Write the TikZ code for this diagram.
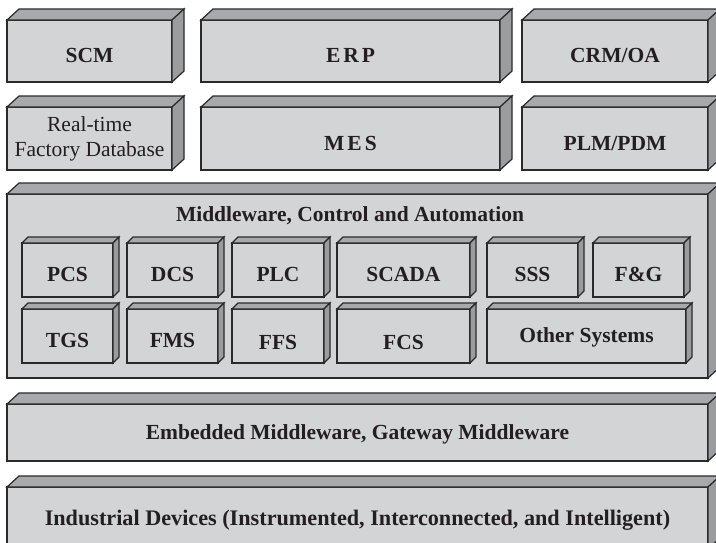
\documentclass[tikz,border=0pt]{standalone}
\usepackage{fontspec}
\setmainfont{Liberation Serif}
\definecolor{frontc}{HTML}{D3D4D6}
\definecolor{topc}{HTML}{A8A9AB}
\definecolor{sidec}{HTML}{9B9C9E}
\definecolor{edgec}{HTML}{2A2A2A}
\definecolor{txtc}{HTML}{231F20}
\tikzset{
  face/.style={draw=edgec, line width=1.2pt, line join=miter},
  lblfont/.style={font=\fontsize{21.5}{25}\selectfont\bfseries, text=txtc},
  frontbox/.style={face, fill=frontc, inner sep=0pt, outer sep=0pt,
    anchor=north west, lblfont, align=center},
  tx/.style={text height=#1, text depth=0pt},
  plain/.style={font=\fontsize{21.5}{25}\selectfont\mdseries},
  widefont/.style={font=\fontsize{22.2}{25}\selectfont\bfseries},
}
% #1 name, #2 options, #3 x, #4 y (down), #5 width, #6 height, #7 depth offset, #8 text
\newcommand{\slab}[8]{%
  \node[frontbox, minimum width=#5pt, minimum height=#6pt, #2] (#1) at (#3,-#4) {#8};
  \draw[face, fill=topc] (#1.north west) -- ++(#7) -- ([shift={(#7)}]#1.north east) -- (#1.north east) -- cycle;
  \draw[face, fill=sidec] (#1.north east) -- ++(#7) -- ([shift={(#7)}]#1.south east) -- (#1.south east) -- cycle;
}
\begin{document}
\begin{tikzpicture}[x=1pt,y=1pt]
\useasboundingbox[fill=white] (0,0) rectangle (716,-542);
% row 1
\slab{scm}{tx=22pt}{7}{20}{165}{62}{12,11}{SCM}
\slab{erp}{tx=22pt}{201}{20}{299}{62}{12,11}{E\kern3pt R\kern3pt P}
\slab{crm}{tx=22pt}{522}{20}{186}{62}{12,11}{CRM/OA}
% row 2
\slab{rtdb}{plain}{7}{107}{165}{63}{12,11}{Real-time\\Factory Database}
\slab{mes}{tx=24pt}{201}{107}{299}{63}{12,11}{M\kern3pt E\kern3pt S}
\slab{plm}{tx=24pt}{522}{107}{186}{63}{12,11}{PLM/PDM}
% middleware
\slab{mca}{}{7}{194}{701}{184}{12,11}{}
\node[lblfont, anchor=base] (mcatitle) at (350,-221.5) {Middleware, Control and Automation};
% inner row 1
\slab{pcs}{tx=22pt}{22}{243}{91}{54}{6,6}{PCS}
\slab{dcs}{tx=22pt}{127}{243}{91}{54}{6,6}{DCS}
\slab{plc}{tx=22pt}{232}{243}{92}{54}{6,6}{PLC}
\slab{scada}{tx=22pt}{337}{243}{133}{54}{6,6}{SCADA}
\slab{sss}{tx=22pt}{487}{243}{91}{54}{6,6}{SSS}
\slab{fg}{tx=22pt}{593}{243}{91}{54}{6,6}{F\&G}
% inner row 2
\slab{tgs}{tx=22pt}{22}{309}{91}{54}{6,6}{TGS}
\slab{fms}{tx=22pt}{127}{309}{91}{54}{6,6}{FMS}
\slab{ffs}{tx=26pt}{232}{309}{92}{54}{6,6}{FFS}
\slab{fcs}{tx=26pt}{337}{309}{133}{54}{6,6}{FCS}
\slab{other}{tx=13pt}{487}{309}{199}{54}{6,6}{Other Systems}
% lower layers
\slab{emb}{tx=13pt}{7}{404}{701}{57}{12,11}{Embedded Middleware, Gateway Middleware}
\slab{ind}{tx=14pt, widefont}{7}{487}{701}{62}{12,11}{Industrial Devices (Instrumented, Interconnected, and Intelligent)}
\end{tikzpicture}
\end{document}
